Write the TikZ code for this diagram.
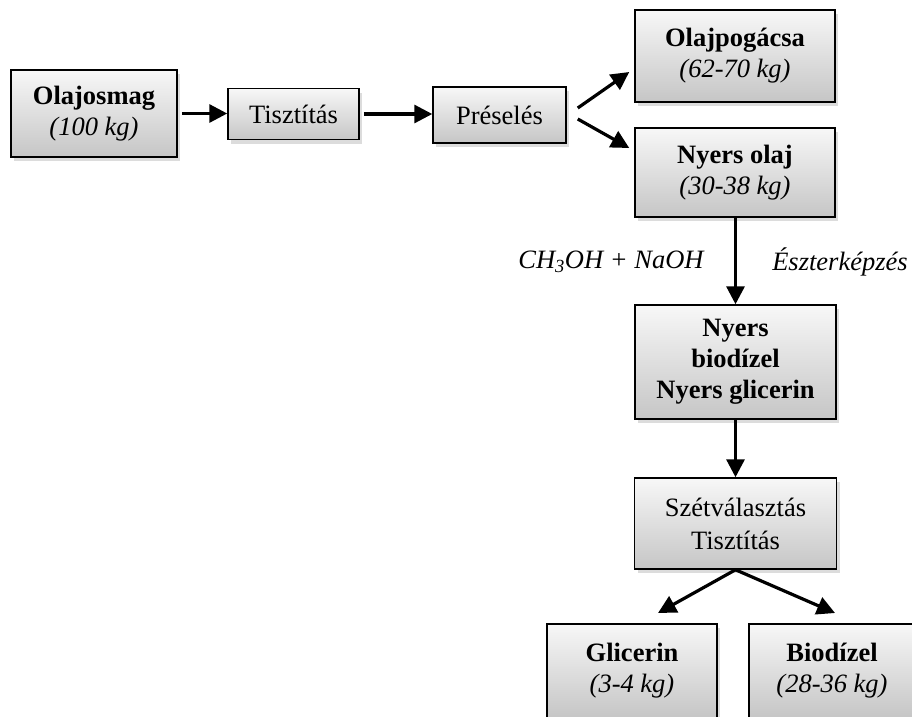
\documentclass[tikz,border=0pt]{standalone}
\usepackage{fontspec}
\setmainfont{Liberation Serif}
\usetikzlibrary{arrows.meta,shadows,calc}
\begin{document}
\begin{tikzpicture}[x=1pt,y=-1pt,
  box/.style={draw=black,line width=1.5pt,top color=gray!6,bottom color=gray!45,
    drop shadow={shadow xshift=3pt,shadow yshift=-4pt,fill=gray!60,opacity=0.45},
    align=center,inner sep=2pt,font=\fontsize{26.5}{31}\selectfont},
  arr/.style={line width=3.2pt,-{Triangle[length=18pt,width=18pt]}},
  lbl/.style={font=\fontsize{26.5}{31}\selectfont\itshape}]
\useasboundingbox (0,0) rectangle (912,716);
\node[box,minimum width=166pt,minimum height=87pt] (olaj) at (94,113.5) {\textbf{Olajosmag}\\\textit{(100 kg)}};
\node[box,minimum width=131pt,minimum height=51pt] (tiszt) at (293.5,114) {Tisztítás};
\node[box,minimum width=133pt,minimum height=56pt] (pres) at (499.5,115) {Préselés};
\node[box,minimum width=200pt,minimum height=92pt] (pog) at (735,56) {\textbf{Olajpogácsa}\\\textit{(62-70 kg)}};
\node[box,minimum width=200pt,minimum height=89pt] (nyo) at (735,172.5) {\textbf{Nyers olaj}\\\textit{(30-38 kg)}};
\node[box,minimum width=201pt,minimum height=114pt,font=\fontsize{26.5}{31}\selectfont\bfseries] (nyb) at (735.5,362) {Nyers\\biodízel\\Nyers glicerin};
\node[box,minimum width=202pt,minimum height=91pt,font=\fontsize{26.5}{33}\selectfont] (szet) at (735.5,523.5) {Szétválasztás\\Tisztítás};
\node[box,minimum width=170pt,minimum height=94pt,anchor=north] (gli) at (632,623) {\textbf{Glicerin}\\\textit{(3-4 kg)}};
\node[box,minimum width=166pt,minimum height=94pt,anchor=north] (bio) at (832,623) {\textbf{Biodízel}\\\textit{(28-36 kg)}};
\node[lbl] (chem) at (611,262) {CH\textsubscript{3}OH + NaOH};
\node[lbl] (eszt) at (840,262) {Észterképzés};
\coordinate (p1) at ($(pres.east)+(11,-7)$);
\coordinate (p2) at ($(pres.east)+(11,4)$);
\coordinate (g1) at (658,613);
\coordinate (b1) at (835,613);
\draw[arr] ($(olaj.east)+(4,0)$) -- (olaj.east -| tiszt.west);
\draw[arr] ($(tiszt.east)+(4,0)$) -- (tiszt.east -| pres.west);
\draw[arr] (p1) -- ($(pog.west)+(-5,16)$);
\draw[arr] (p2) -- ($(nyo.west)+(-5,-24.5)$);
\draw[arr] (nyo.south -| nyb.north) -- (nyb.north);
\draw[arr] (nyb.south) -- (nyb.south |- szet.north);
\draw[arr] (szet.south) -- (g1);
\draw[arr] (szet.south) -- (b1);
\end{tikzpicture}
\end{document}
